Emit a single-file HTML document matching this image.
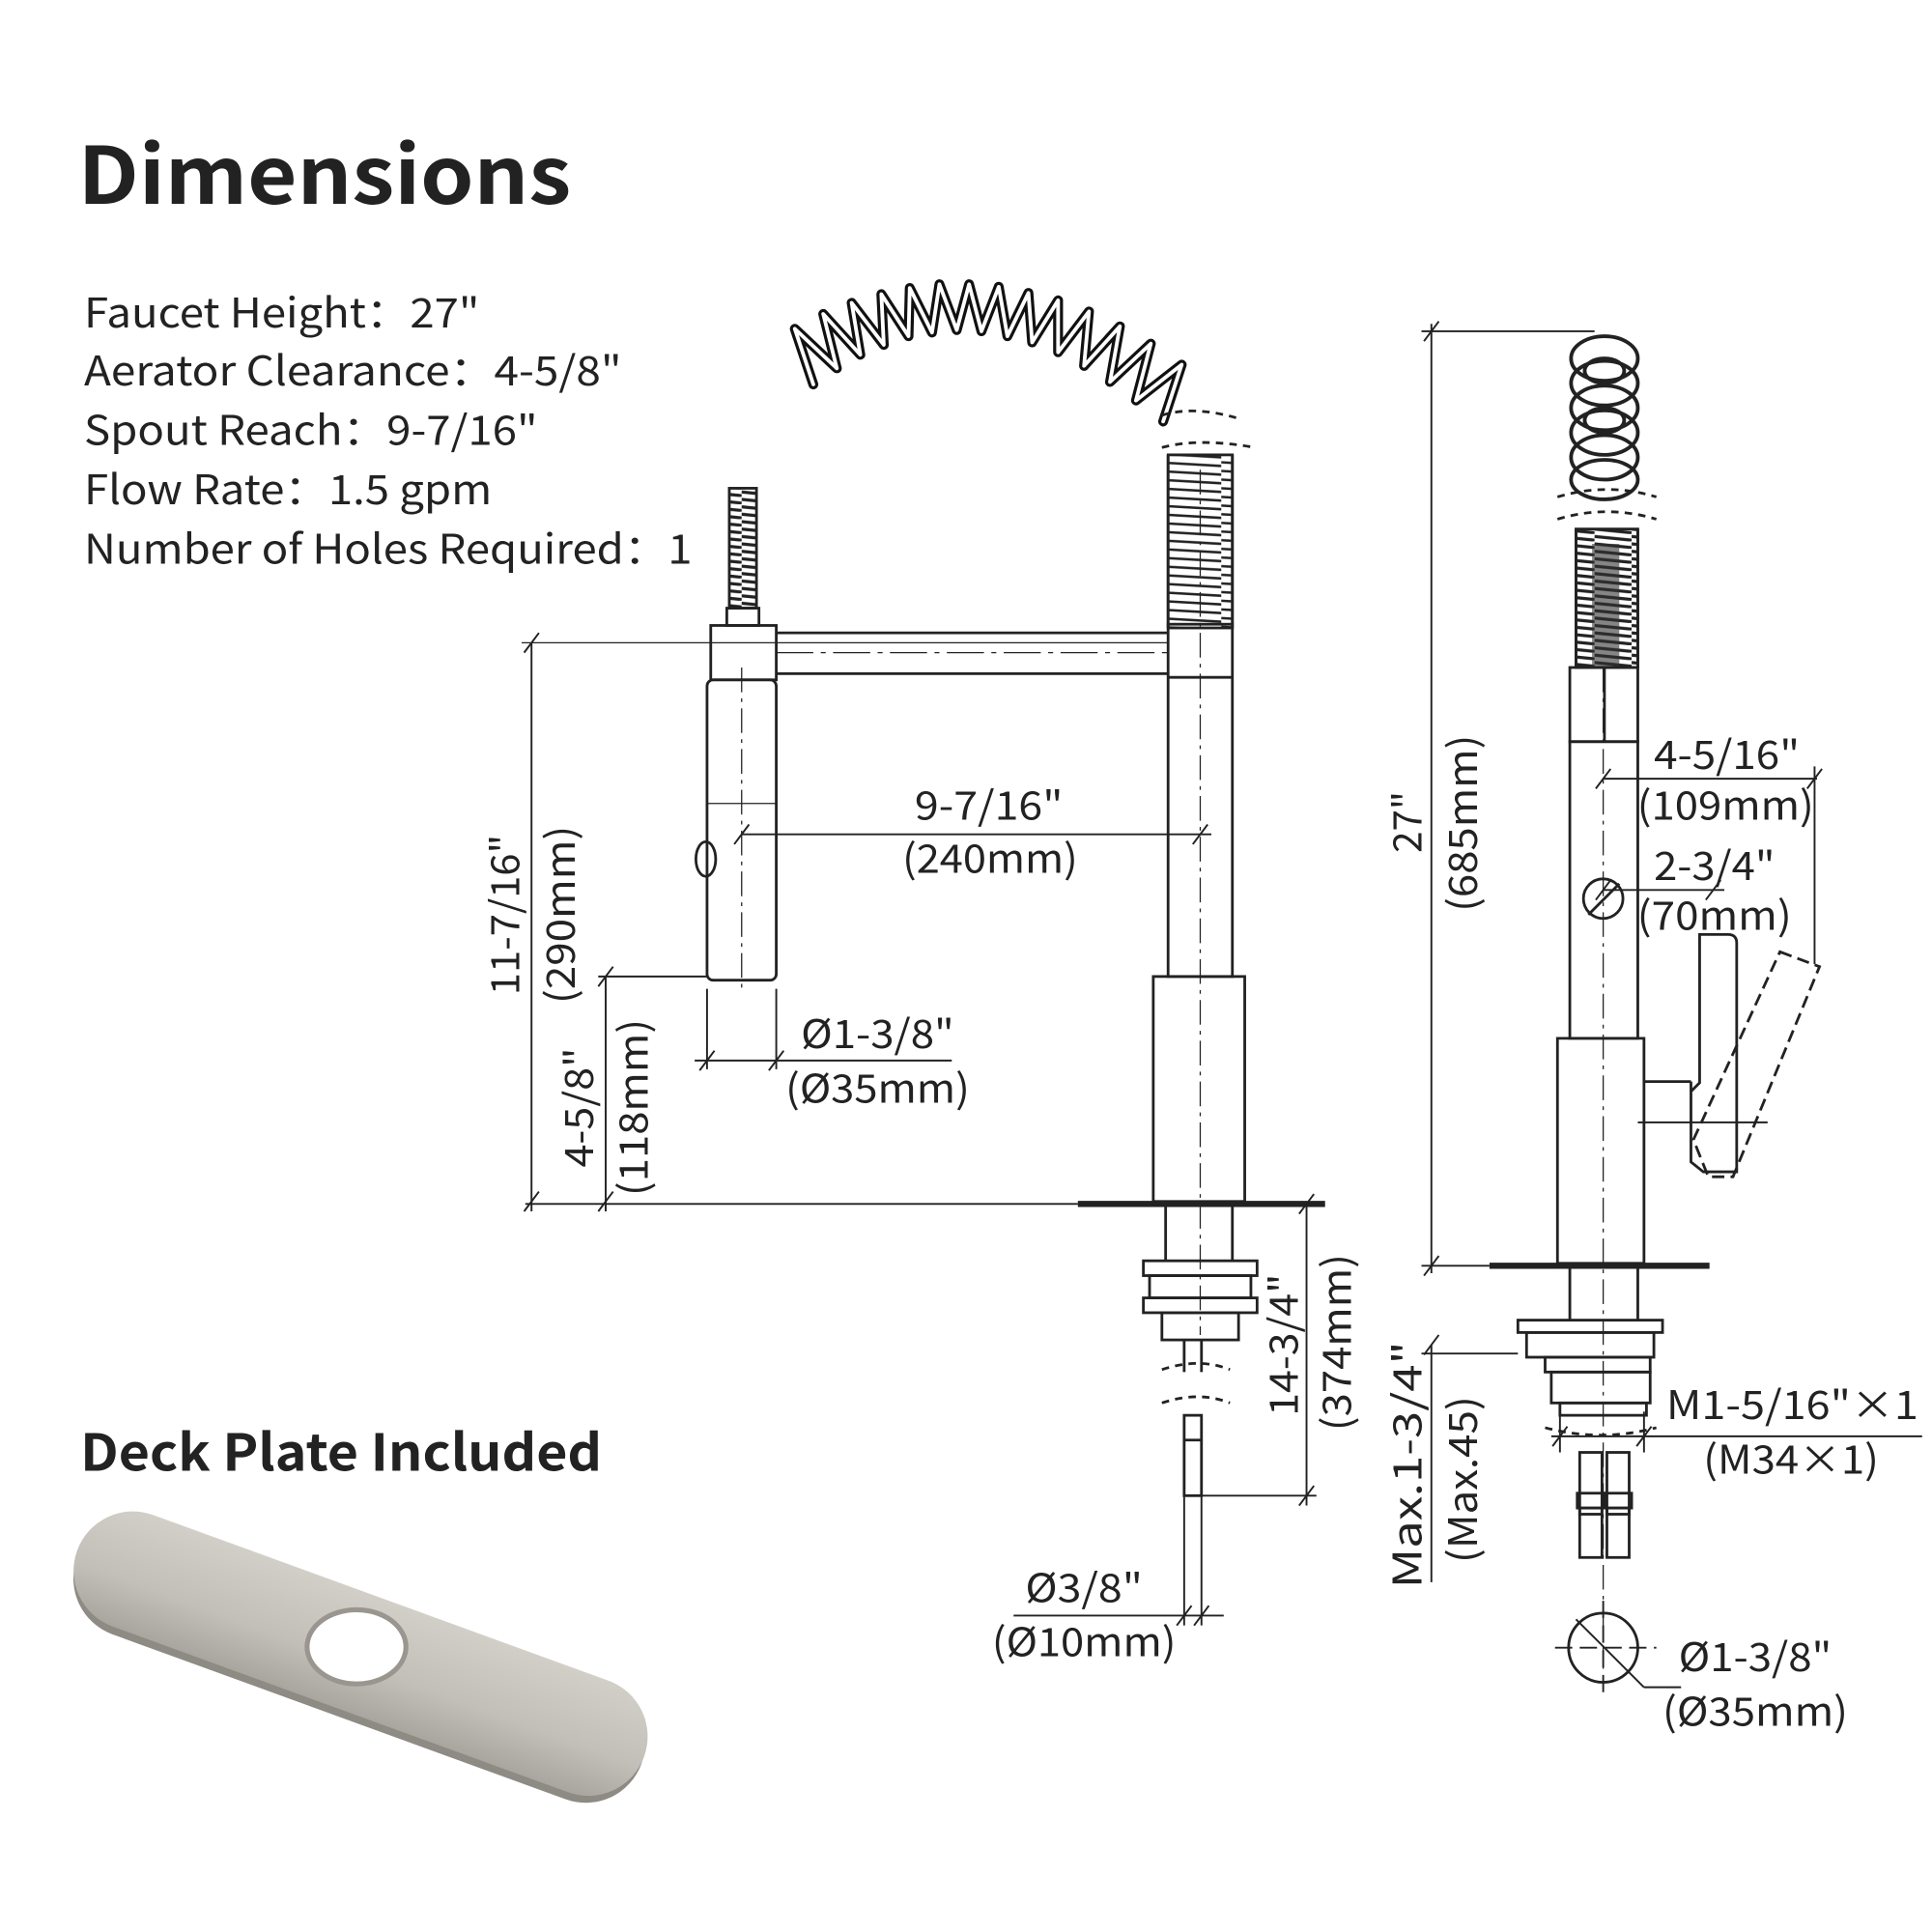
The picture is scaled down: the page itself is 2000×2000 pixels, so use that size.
<!DOCTYPE html>
<html><head><meta charset="utf-8"><style>
html,body{margin:0;padding:0;background:#fff;}
svg{display:block;}
text{font-family:"Noto Sans CJK SC","Liberation Sans",sans-serif;fill:#222;}
</style></head><body>
<svg width="2000" height="2000" viewBox="0 0 1563 1563" xmlns="http://www.w3.org/2000/svg">
<defs>
<linearGradient id="plate" x1="0" y1="0" x2="0" y2="1">
<stop offset="0" stop-color="#d2cec8"/><stop offset="0.6" stop-color="#c2beb8"/><stop offset="1" stop-color="#a9a59f"/>
</linearGradient>
<pattern id="coil" width="52" height="7" patternUnits="userSpaceOnUse"><line x1="0" y1="3" x2="52" y2="6" stroke="#222" stroke-width="2"/></pattern>
<pattern id="coil2" width="30" height="6" patternUnits="userSpaceOnUse"><line x1="0" y1="2" x2="30" y2="5" stroke="#222" stroke-width="2.5"/></pattern>
</defs>
<rect width="1563" height="1563" fill="#fff"/>

<!-- Text block -->
<text x="63" y="165" font-size="64" font-weight="bold" fill="#111" textLength="399" lengthAdjust="spacingAndGlyphs">Dimensions</text>
<g font-size="33">
<text x="68" y="265" textLength="320" lengthAdjust="spacingAndGlyphs">Faucet Height：27"</text>
<text x="68" y="312" textLength="435" lengthAdjust="spacingAndGlyphs">Aerator Clearance：4-5/8"</text>
<text x="68" y="360" textLength="367" lengthAdjust="spacingAndGlyphs">Spout Reach：9-7/16"</text>
<text x="68" y="408" textLength="330" lengthAdjust="spacingAndGlyphs">Flow Rate：1.5 gpm</text>
<text x="68" y="456" textLength="492" lengthAdjust="spacingAndGlyphs">Number of Holes Required：1</text>
</g>
<text x="65" y="1190" font-size="41" font-weight="bold" fill="#111" textLength="422" lengthAdjust="spacingAndGlyphs">Deck Plate Included</text>

<!-- deck plate -->
<g transform="translate(292,1340) rotate(20)">
<rect x="-243" y="-44" width="486" height="96" rx="48" fill="#8e8a84"/>
<rect x="-245" y="-50" width="488" height="96" rx="48" fill="url(#plate)"/>
<ellipse cx="-6" cy="-6" rx="40" ry="30" transform="rotate(-20 -6 -6)" fill="#fff" stroke="#9a968f" stroke-width="4"/>
</g>

<!-- coil spring -->
<g fill="none" stroke-linejoin="round" stroke-linecap="round">
<path id="cz" d="M658,311 L643,266 L677,298 L666,254 L696,287 L689,245 L715,279 L713,238 L735,272 L736,233 L754,269 L760,230 L774,267 L784,230 L794,268 L808,232 L815,272 L832,237 L835,277 L856,243 L856,285 L881,252 L877,296 L906,264 L898,309 L931,278 L919,324 L956,295 L941,341" stroke="#111" stroke-width="8"/>
<path d="M658,311 L643,266 L677,298 L666,254 L696,287 L689,245 L715,279 L713,238 L735,272 L736,233 L754,269 L760,230 L774,267 L784,230 L794,268 L808,232 L815,272 L832,237 L835,277 L856,243 L856,285 L881,252 L877,296 L906,264 L898,309 L931,278 L919,324 L956,295 L941,341" stroke="#fff" stroke-width="3"/>
</g>

<g fill="none" stroke="#222" stroke-width="2.2">
<!-- ===== Middle faucet ===== -->
<path d="M940,336 q25,-8 60,2" stroke-dasharray="6 5"/>
<path d="M940,362 q30,-8 75,0" stroke-dasharray="6 5"/>
<rect x="945" y="368" width="52" height="140" fill="url(#coil)"/>
<line x1="945" y1="368" x2="945" y2="508"/><line x1="997" y1="368" x2="997" y2="508"/>
<rect x="945" y="505" width="52" height="285"/>
<line x1="945" y1="548" x2="997" y2="548"/>
<line x1="628" y1="512" x2="945" y2="512"/><line x1="628" y1="545" x2="945" y2="545"/>
<line x1="628" y1="528" x2="945" y2="528" stroke-width="1" stroke-dasharray="30 6 4 6"/>
<rect x="590" y="395" width="22" height="97" fill="url(#coil2)" stroke="#222"/>
<rect x="588" y="492" width="26" height="14"/>
<rect x="575" y="506" width="53" height="44"/>
<rect x="572" y="550" width="56" height="243" rx="5"/>
<line x1="572" y1="650" x2="628" y2="650" stroke-width="1"/>
<ellipse cx="571" cy="695" rx="8" ry="14"/>
<line x1="600" y1="540" x2="600" y2="800" stroke-width="1" stroke-dasharray="20 5 3 5"/>
<line x1="971" y1="380" x2="971" y2="1080" stroke-width="1" stroke-dasharray="20 5 3 5"/>
<rect x="933" y="790" width="74" height="182"/>
<line x1="872" y1="974" x2="1072" y2="974" stroke-width="5"/>
<line x1="943" y1="976" x2="943" y2="1020"/><line x1="997" y1="976" x2="997" y2="1020"/>
<rect x="925" y="1020" width="92" height="12"/>
<rect x="930" y="1032" width="82" height="18"/>
<rect x="925" y="1050" width="92" height="12"/>
<rect x="940" y="1062" width="62" height="22"/>
<line x1="958" y1="1084" x2="958" y2="1110"/><line x1="972" y1="1084" x2="972" y2="1110"/>
<path d="M940,1108 q30,-10 55,0" stroke-dasharray="6 5"/>
<path d="M940,1135 q30,-10 55,0" stroke-dasharray="6 5"/>
<rect x="958" y="1145" width="14" height="65"/>
<line x1="958" y1="1165" x2="972" y2="1165"/>
<g stroke-width="1.5">
<line x1="430" y1="520" x2="430" y2="980"/><line x1="422" y1="520" x2="945" y2="520" stroke-width="1"/>
<line x1="424" y1="528" x2="436" y2="512"/><line x1="424" y1="980" x2="436" y2="964"/>
<line x1="490" y1="790" x2="490" y2="980"/><line x1="484" y1="790" x2="572" y2="790"/>
<line x1="484" y1="798" x2="496" y2="782"/><line x1="484" y1="980" x2="496" y2="964"/>
<line x1="425" y1="974" x2="872" y2="974"/>
<line x1="600" y1="675" x2="980" y2="675"/>
<line x1="594" y1="683" x2="606" y2="667"/><line x1="965" y1="683" x2="977" y2="667"/>
<line x1="572" y1="800" x2="572" y2="865"/><line x1="628" y1="800" x2="628" y2="865"/>
<line x1="562" y1="858" x2="770" y2="858"/>
<line x1="566" y1="866" x2="578" y2="850"/><line x1="622" y1="866" x2="634" y2="850"/>
<line x1="1057" y1="974" x2="1057" y2="1218"/><line x1="972" y1="1210" x2="1065" y2="1210"/>
<line x1="1051" y1="982" x2="1063" y2="966"/><line x1="1051" y1="1218" x2="1063" y2="1202"/>
<line x1="958" y1="1210" x2="958" y2="1315"/><line x1="972" y1="1210" x2="972" y2="1315"/>
<line x1="820" y1="1307" x2="990" y2="1307"/>
<line x1="952" y1="1315" x2="964" y2="1299"/><line x1="966" y1="1315" x2="978" y2="1299"/>
</g>

<!-- ===== Right faucet ===== -->
<g stroke-width="3">
<ellipse cx="1298" cy="290" rx="27" ry="18"/><ellipse cx="1298" cy="310" rx="27" ry="18"/>
<ellipse cx="1298" cy="330" rx="27" ry="18"/><ellipse cx="1298" cy="350" rx="27" ry="18"/>
<ellipse cx="1298" cy="370" rx="27" ry="18"/><ellipse cx="1298" cy="388" rx="27" ry="16"/>
<ellipse cx="1298" cy="300" rx="16" ry="10"/><ellipse cx="1298" cy="340" rx="16" ry="10"/>
</g>
<path d="M1260,402 q40,-12 80,0" stroke-dasharray="6 5"/>
<path d="M1260,420 q40,-12 80,0" stroke-dasharray="6 5"/>
<rect x="1275" y="428" width="50" height="112" fill="url(#coil2)"/>
<line x1="1275" y1="428" x2="1275" y2="540"/><line x1="1325" y1="428" x2="1325" y2="540"/>
<rect x="1288" y="440" width="22" height="100" fill="#333" stroke="none" opacity="0.6"/>
<rect x="1270" y="540" width="55" height="60"/>
<line x1="1298" y1="540" x2="1298" y2="600"/>
<rect x="1270" y="600" width="55" height="240"/>
<circle cx="1297" cy="727" r="16"/>
<line x1="1285" y1="740" x2="1310" y2="715"/>
<path d="M1260,840 h70 v182 h-70 z"/>
<line x1="1330" y1="875" x2="1368" y2="875"/>
<path d="M1368,875 v65 l10,8 h27 v-185 q0,-7 -7,-7 h-23 v120 l-7,7 z"/>
<path d="M1440,770 l32,12 -70,170 h-20 l-12,-30 z" stroke-dasharray="10 5"/>
<line x1="1205" y1="1024" x2="1383" y2="1024" stroke-width="5"/>
<line x1="1297" y1="540" x2="1297" y2="1350" stroke-width="1" stroke-dasharray="20 5 3 5"/>
<line x1="1270" y1="1026" x2="1270" y2="1068"/><line x1="1325" y1="1026" x2="1325" y2="1068"/>
<rect x="1228" y="1068" width="117" height="10"/>
<rect x="1235" y="1078" width="103" height="20"/>
<rect x="1250" y="1098" width="85" height="12"/>
<rect x="1255" y="1110" width="80" height="25"/>
<rect x="1262" y="1135" width="70" height="10"/>
<path d="M1250,1155 q45,12 90,0" stroke-dasharray="6 5"/>
<rect x="1278" y="1175" width="18" height="50"/><rect x="1300" y="1175" width="18" height="50"/>
<rect x="1276" y="1208" width="22" height="12"/><rect x="1298" y="1208" width="22" height="12"/>
<rect x="1278" y="1220" width="18" height="40"/><rect x="1300" y="1220" width="18" height="40"/>
<circle cx="1297" cy="1333" r="28"/>
<g stroke-width="1.5">
<line x1="1258" y1="1333" x2="1340" y2="1333" stroke-dasharray="14 6"/>
<line x1="1297" y1="1295" x2="1297" y2="1375" stroke-dasharray="14 6"/>
<line x1="1275" y1="1310" x2="1330" y2="1365"/><line x1="1330" y1="1365" x2="1360" y2="1365"/>
<line x1="1158" y1="262" x2="1158" y2="1030"/>
<line x1="1150" y1="268" x2="1290" y2="268"/>
<line x1="1152" y1="276" x2="1164" y2="260"/><line x1="1152" y1="1032" x2="1164" y2="1016"/>
<line x1="1150" y1="1024" x2="1205" y2="1024"/>
<line x1="1158" y1="1088" x2="1158" y2="1280"/>
<line x1="1150" y1="1095" x2="1228" y2="1095"/>
<line x1="1152" y1="1096" x2="1164" y2="1080"/>
<line x1="1255" y1="1162" x2="1555" y2="1162"/>
<line x1="1262" y1="1142" x2="1262" y2="1175"/><line x1="1330" y1="1142" x2="1330" y2="1175"/>
<line x1="1256" y1="1170" x2="1268" y2="1154"/><line x1="1324" y1="1170" x2="1336" y2="1154"/>
<line x1="1297" y1="630" x2="1470" y2="630"/>
<line x1="1468" y1="620" x2="1468" y2="780"/>
<line x1="1291" y1="638" x2="1303" y2="622"/><line x1="1462" y1="638" x2="1474" y2="622"/>
<line x1="1297" y1="720" x2="1395" y2="720"/>
<line x1="1291" y1="728" x2="1303" y2="712"/><line x1="1380" y1="728" x2="1392" y2="712"/>
<line x1="1325" y1="908" x2="1430" y2="908"/>
</g>
</g>

<!-- Labels -->
<g font-size="32" text-anchor="middle">
<text x="800" y="663" textLength="120" lengthAdjust="spacingAndGlyphs">9-7/16"</text>
<text x="801" y="706" textLength="142" lengthAdjust="spacingAndGlyphs">(240mm)</text>
<text x="710" y="848" textLength="124" lengthAdjust="spacingAndGlyphs">Ø1-3/8"</text>
<text x="710" y="892" textLength="149" lengthAdjust="spacingAndGlyphs">(Ø35mm)</text>
<text x="877" y="1296" textLength="95" lengthAdjust="spacingAndGlyphs">Ø3/8"</text>
<text x="877" y="1340" textLength="149" lengthAdjust="spacingAndGlyphs">(Ø10mm)</text>
<text x="1397" y="622" textLength="118" lengthAdjust="spacingAndGlyphs">4-5/16"</text>
<text x="1396" y="663" textLength="143" lengthAdjust="spacingAndGlyphs">(109mm)</text>
<text x="1387" y="712" textLength="98" lengthAdjust="spacingAndGlyphs">2-3/4"</text>
<text x="1387" y="752" textLength="125" lengthAdjust="spacingAndGlyphs">(70mm)</text>
<text x="1450" y="1148" textLength="204" lengthAdjust="spacingAndGlyphs">M1-5/16"×1</text>
<text x="1449" y="1192" textLength="142" lengthAdjust="spacingAndGlyphs">(M34×1)</text>
<text x="1420" y="1352" textLength="124" lengthAdjust="spacingAndGlyphs">Ø1-3/8"</text>
<text x="1420" y="1396" textLength="150" lengthAdjust="spacingAndGlyphs">(Ø35mm)</text>
<text transform="translate(420,740) rotate(-90)" textLength="130" lengthAdjust="spacingAndGlyphs">11-7/16"</text>
<text transform="translate(465,740) rotate(-90)" textLength="144" lengthAdjust="spacingAndGlyphs">(290mm)</text>
<text transform="translate(480,896) rotate(-90)" textLength="97" lengthAdjust="spacingAndGlyphs">4-5/8"</text>
<text transform="translate(524,896) rotate(-90)" textLength="143" lengthAdjust="spacingAndGlyphs">(118mm)</text>
<text transform="translate(1050,1088) rotate(-90)" textLength="115" lengthAdjust="spacingAndGlyphs">14-3/4"</text>
<text transform="translate(1093,1086) rotate(-90)" textLength="143" lengthAdjust="spacingAndGlyphs">(374mm)</text>
<text transform="translate(1150,665) rotate(-90)" textLength="50" lengthAdjust="spacingAndGlyphs">27"</text>
<text transform="translate(1195,666) rotate(-90)" textLength="143" lengthAdjust="spacingAndGlyphs">(685mm)</text>
<text transform="translate(1150,1185) rotate(-90)" textLength="200" lengthAdjust="spacingAndGlyphs">Max.1-3/4"</text>
<text transform="translate(1195,1197) rotate(-90)" textLength="135" lengthAdjust="spacingAndGlyphs">(Max.45)</text>
</g>
</svg>
</body></html>
